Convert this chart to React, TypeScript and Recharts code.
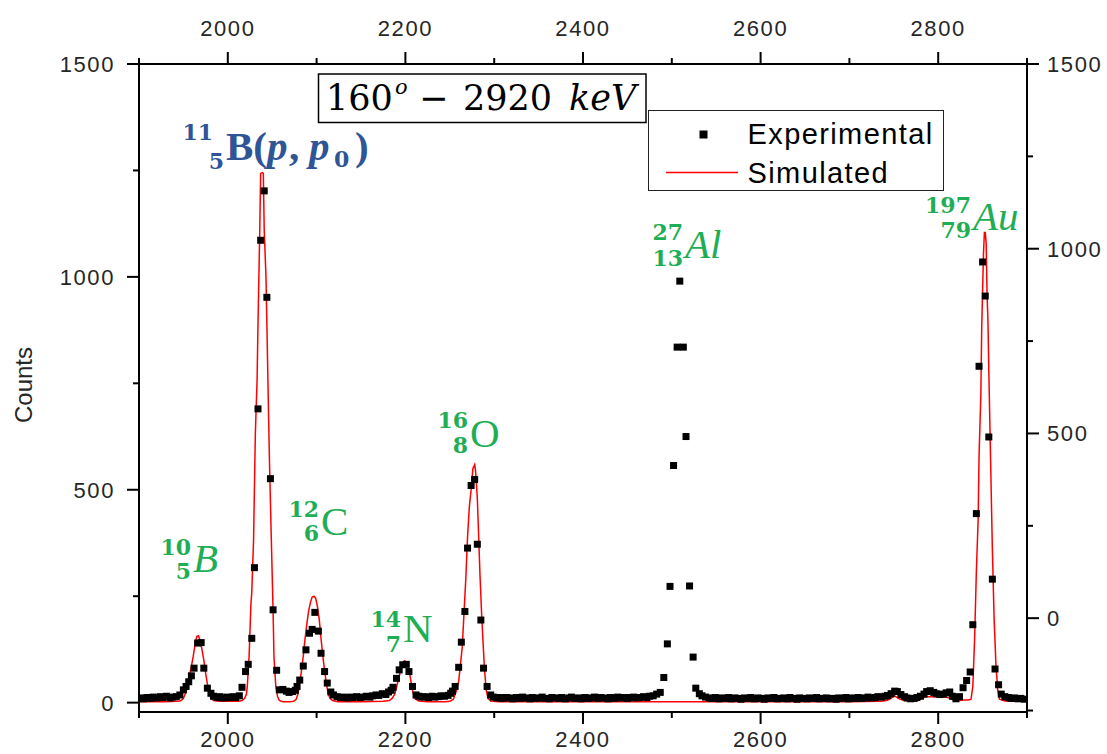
import React from 'react';
import { ComposedChart, XAxis, YAxis, Scatter, Line, Legend } from 'recharts';

type Pt = [number, number];

// ---- Experimental counts (energy keV, counts) ----
const expLowEdge: Pt[] = [[1902,11],[1905,9],[1909,12],[1913,10],[1916,13],[1920,11],[1924,14],[1927,12],[1931,15],[1935,11],[1938,13],[1942,14],[1946,18]];
const expBoron10: Pt[] = [[1950,30],[1953,38],[1956,49],[1959,63],[1962,81],[1966,140],[1970,141],[1973,81],[1977,34],[1981,22]];
const expGapA: Pt[] = [[1984,15],[1988,12],[1991,14],[1995,11],[1999,13],[2002,12],[2006,14],[2009,12],[2013,16]];
const expBoron11: Pt[] = [[2016,36],[2020,73],[2023,90],[2027,151],[2030,317],[2034,690],[2037,1086],[2041,1202],[2044,952],[2048,526],[2051,218],[2055,76],[2058,30]];
const expGapB: Pt[] = [[2062,31],[2066,27],[2069,24],[2073,26],[2076,29],[2078,38]];
const expCarbon: Pt[] = [[2081,53],[2085,86],[2088,124],[2092,163],[2095,172],[2098,212],[2102,168],[2105,116],[2109,73],[2112,46],[2116,25],[2119,18]];
const expGapC: Pt[] = [[2123,14],[2127,12],[2130,13],[2134,11],[2138,13],[2141,12],[2145,14],[2149,12],[2152,13],[2156,15],[2160,13],[2163,16],[2167,18],[2170,17],[2174,21],[2178,19],[2181,25],[2184,29]];
const expNitrogen: Pt[] = [[2186,36],[2190,57],[2193,77],[2197,89],[2201,90],[2204,73],[2208,38],[2212,18]];
const expGapD: Pt[] = [[2215,15],[2219,13],[2222,14],[2226,12],[2230,15],[2233,13],[2237,14],[2240,16],[2244,15],[2248,17],[2251,22],[2253,27]];
const expOxygen: Pt[] = [[2256,38],[2260,83],[2263,142],[2267,214],[2270,363],[2274,510],[2278,524],[2281,372],[2285,194],[2288,81],[2292,38],[2296,18]];
const expGapE: Pt[] = [[2299,13],[2303,11],[2307,12],[2310,10],[2314,12],[2318,11],[2321,9],[2325,12],[2329,10],[2332,13],[2336,11],[2340,9],[2343,12],[2347,10],[2351,11],[2354,13],[2358,10],[2362,9],[2365,12],[2369,11],[2373,10],[2376,12],[2380,9],[2384,11],[2387,13],[2391,10],[2395,11],[2398,9],[2402,12],[2406,10],[2409,11],[2413,13],[2417,10],[2420,12],[2424,11],[2428,9],[2431,12],[2435,10],[2439,13],[2442,11],[2446,12],[2450,10],[2453,12],[2457,13],[2461,11],[2464,12],[2468,14],[2472,12],[2475,15],[2479,16],[2483,20]];
const expAluminium: Pt[] = [[2487,24],[2491,59],[2495,138],[2498,273],[2502,557],[2506,835],[2509,990],[2513,835],[2516,625],[2520,274],[2524,107],[2527,34],[2531,21],[2534,16]];
const expGapF: Pt[] = [[2538,13],[2542,11],[2545,10],[2549,12],[2553,9],[2556,11],[2560,10],[2564,12],[2567,9],[2571,11],[2575,10],[2578,8],[2582,11],[2586,10],[2589,12],[2593,9],[2597,11],[2600,10],[2604,8],[2608,11],[2611,10],[2615,12],[2619,9],[2622,10],[2626,11],[2630,9],[2633,12],[2637,10],[2641,8],[2644,11],[2648,10],[2652,9],[2655,11],[2659,10],[2663,12],[2666,9],[2670,10],[2674,11],[2677,9],[2681,10],[2685,8],[2688,11],[2692,10],[2696,12],[2699,9],[2703,11],[2707,10],[2710,12],[2714,10],[2718,11],[2721,13],[2725,11],[2729,12],[2732,14],[2736,13],[2740,15]];
const expBumps: Pt[] = [[2743,17],[2747,21],[2751,27],[2754,26],[2758,19],[2762,14],[2765,11],[2769,9],[2773,10],[2776,12],[2780,15],[2784,20],[2787,26],[2791,28],[2795,24],[2798,21],[2802,19],[2806,20],[2809,23],[2813,25],[2816,15],[2820,9],[2824,14],[2828,35]];
const expGold: Pt[] = [[2832,52],[2836,72],[2839,183],[2843,444],[2846,790],[2850,1035],[2853,955],[2857,624],[2861,290],[2864,79],[2868,42],[2871,20],[2875,14],[2879,12],[2882,10],[2886,11],[2890,9],[2893,10],[2897,8]];

// ---- Simulated spectrum (energy keV, counts) ----
const simLow: Pt[] = [[1900,2],[1930,2],[1942,3],[1946,4]];
const simBoron10: Pt[] = [[1948,6],[1950,10],[1953,25],[1955,45],[1957,65],[1959,85],[1961,108],[1963,135],[1965,155],[1967,157],[1969,145],[1971,124],[1973,100],[1975,70],[1977,44],[1979,22],[1981,10],[1984,5],[1990,3]];
const simBoron11: Pt[] = [[2005,3],[2012,3],[2016,5],[2019,10],[2021,20],[2022,40],[2024,110],[2026,230],[2027,260],[2029,380],[2031,630],[2033,760],[2034,890],[2036,1110],[2037,1243],[2039,1245],[2040,1243],[2041,1110],[2043,1000],[2044,890],[2046,665],[2047,560],[2049,385],[2051,216],[2052,107],[2054,40],[2056,15],[2058,5],[2062,2],[2070,2]];
const simCarbon: Pt[] = [[2074,3],[2077,8],[2079,20],[2081,46],[2083,75],[2085,110],[2087,150],[2089,185],[2091,215],[2093,235],[2095,248],[2097,250],[2099,245],[2101,225],[2103,195],[2105,150],[2107,110],[2109,75],[2111,45],[2113,22],[2115,10],[2118,5],[2124,2]];
const simNitrogen: Pt[] = [[2150,2],[2175,3],[2182,5],[2185,10],[2188,20],[2190,36],[2193,62],[2196,86],[2199,98],[2201,95],[2203,82],[2205,66],[2207,40],[2209,20],[2211,9],[2215,4],[2225,2]];
const simOxygen: Pt[] = [[2245,2],[2250,3],[2254,8],[2257,25],[2260,50],[2262,90],[2264,130],[2266,210],[2268,290],[2270,390],[2272,460],[2274,500],[2276,550],[2278,559],[2279,545],[2281,480],[2282,420],[2284,300],[2286,200],[2287,160],[2289,80],[2291,30],[2293,10],[2296,4],[2305,2]];
const simFlat: Pt[] = [[2400,2],[2500,2],[2600,2],[2700,2],[2735,3]];
const simBumps: Pt[] = [[2742,5],[2746,9],[2751,16],[2756,9],[2762,5],[2770,4],[2776,5],[2781,9],[2786,14],[2792,14],[2800,13],[2808,13],[2813,11],[2817,6],[2824,5]];
const simGold: Pt[] = [[2830,6],[2834,6],[2837,8],[2839,38],[2841,150],[2843,310],[2845,430],[2846,580],[2848,720],[2849,880],[2851,1055],[2852,1104],[2853,1104],[2854,1080],[2855,960],[2856,900],[2857,780],[2859,570],[2861,360],[2863,195],[2865,90],[2867,30],[2869,8],[2875,4],[2900,3]];

// ---- Axis ticks ----
const xTicks = [1900, 2000, 2100, 2200, 2300, 2400, 2500, 2600, 2700, 2800, 2900];
const xMajor = [2000, 2200, 2400, 2600, 2800];
const leftTicks = [0, 250, 500, 750, 1000, 1250, 1500];
const rightTicks = [-250, 0, 250, 500, 750, 1000, 1250, 1500];
const yMajor = [0, 500, 1000, 1500];

const toRows = (segs: Pt[][]) => segs.flat().map(([e, c]) => ({ e, c }));
const experimental = toRows([expLowEdge, expBoron10, expGapA, expBoron11, expGapB, expCarbon, expGapC, expNitrogen, expGapD, expOxygen, expGapE, expAluminium, expGapF, expBumps, expGold]);
const simulated = toRows([simLow, simBoron10, simBoron11, simCarbon, simNitrogen, simOxygen, simFlat, simBumps, simGold]);

const MAJOR = 12;
const MINOR = 6;
const SANS = '"Liberation Sans", Arial, sans-serif';
const tickText = { fontFamily: SANS, fontSize: 22, letterSpacing: 1.6, fill: '#262626' } as const;

const BottomTick = (p: any) => {
  const major = xMajor.includes(p.payload.value);
  return (
    <g>
      <line x1={p.x} x2={p.x} y1={p.y} y2={p.y + (major ? MAJOR : MINOR)} stroke="#000" strokeWidth={2} />
      {major && <text x={p.x} y={p.y + 35} textAnchor="middle" {...tickText}>{p.payload.value}</text>}
    </g>
  );
};
const TopTick = (p: any) => {
  const major = xMajor.includes(p.payload.value);
  return (
    <g>
      <line x1={p.x} x2={p.x} y1={p.y} y2={p.y - (major ? MAJOR : MINOR)} stroke="#000" strokeWidth={2} />
      {major && <text x={p.x} y={p.y - 28} textAnchor="middle" {...tickText}>{p.payload.value}</text>}
    </g>
  );
};
const LeftTick = (p: any) => {
  const major = yMajor.includes(p.payload.value);
  return (
    <g>
      <line x1={p.x} x2={p.x - (major ? MAJOR : MINOR)} y1={p.y} y2={p.y} stroke="#000" strokeWidth={2} />
      {major && <text x={p.x - 24} y={p.y + 8} textAnchor="end" {...tickText}>{p.payload.value}</text>}
    </g>
  );
};
const RightTick = (p: any) => {
  const major = yMajor.includes(p.payload.value);
  return (
    <g>
      <line x1={p.x} x2={p.x + (major ? MAJOR : MINOR)} y1={p.y} y2={p.y} stroke="#000" strokeWidth={2} />
      {major && <text x={p.x + 20} y={p.y + 8} textAnchor="start" {...tickText}>{p.payload.value}</text>}
    </g>
  );
};

const SquareMark = (p: any) => <rect x={p.cx - 3.5} y={p.cy - 3.5} width={7} height={7} fill="#000" />;

const LegendBox = () => (
  <div style={{ width: 296, height: 81, border: '1.5px solid #222', boxSizing: 'border-box', background: '#fff' }}>
    <svg width={293} height={78} style={{ display: 'block' }}>
      <rect x={50.5} y={19.5} width={8} height={8} fill="#000" />
      <text x={98.5} y={32.5} fontFamily={SANS} fontSize={29} letterSpacing={1.4} fill="#000">Experimental</text>
      <line x1={17} x2={89} y1={61.5} y2={61.5} stroke="#ff0000" strokeWidth={1.5} />
      <text x={98.5} y={71.5} fontFamily={SANS} fontSize={29} letterSpacing={1.4} fill="#000">Simulated</text>
    </svg>
  </div>
);

const GREEN = '#1fae55';
const BLUE = '#2f5597';
const SERIF = '"Liberation Serif", "Times New Roman", serif';
const DIGITS = '"DejaVu Serif", serif';

type Nuc = { mass: string; z: string; sym: string; x: number; yMass: number; yZ: number; ySym: number; italic: boolean };
const Nuclide = ({ n, color }: { n: Nuc; color: string }) => (
  <g fill={color}>
    <text x={n.x - 1} y={n.yMass} textAnchor="end" fontFamily={DIGITS} fontWeight="bold" fontSize={22}>{n.mass}</text>
    <text x={n.x - 1} y={n.yZ} textAnchor="end" fontFamily={DIGITS} fontWeight="bold" fontSize={22}>{n.z}</text>
    <text x={n.x + 1} y={n.ySym} fontFamily={SERIF} fontStyle={n.italic ? 'italic' : 'normal'} fontSize={41}>{n.sym}</text>
  </g>
);

const nuclides: Nuc[] = [
  { mass: '10', z: '5', sym: 'B', x: 192, yMass: 555, yZ: 579, ySym: 572, italic: true },
  { mass: '12', z: '6', sym: 'C', x: 320, yMass: 517, yZ: 541, ySym: 535, italic: false },
  { mass: '14', z: '7', sym: 'N', x: 402, yMass: 627, yZ: 652, ySym: 642, italic: false },
  { mass: '16', z: '8', sym: 'O', x: 469, yMass: 428, yZ: 453, ySym: 447, italic: false },
  { mass: '27', z: '13', sym: 'Al', x: 684, yMass: 240, yZ: 266, ySym: 258, italic: true },
  { mass: '197', z: '79', sym: 'Au', x: 972, yMass: 213, yZ: 238, ySym: 230, italic: true },
];

const Overlay = () => (
  <svg width={1107} height={754} style={{ position: 'absolute', left: 0, top: 0, pointerEvents: 'none' }}>
    <text transform="translate(32,385) rotate(-90)" textAnchor="middle" fontFamily={SANS} fontSize={24} fill="#262626">Counts</text>
    {/* title box */}
    <rect x={318.5} y={74} width={327.5} height={48.5} fill="#fff" stroke="#000" strokeWidth={1.5} />
    <g fontFamily={DIGITS} fill="#000">
      <text x={326} y={110} fontSize={35}>160</text>
      <text x={395} y={94} fontSize={21} fontStyle="italic">o</text>
      <text x={419} y={110} fontSize={35}>−</text>
      <text x={463} y={110} fontSize={35}>2920</text>
      <text x={569} y={110} fontSize={35} fontStyle="italic">keV</text>
    </g>
    {/* blue reaction label */}
    <g fill={BLUE} fontWeight="bold">
      <text x={213} y={140} textAnchor="end" fontFamily={DIGITS} fontSize={22}>11</text>
      <text x={224} y={169} textAnchor="end" fontFamily={DIGITS} fontSize={22}>5</text>
      <text x={226} y={160} fontFamily={SERIF} fontSize={41}>B(</text>
      <text x={267} y={160} fontFamily={SERIF} fontSize={41} fontStyle="italic">p</text>
      <text x={289} y={160} fontFamily={SERIF} fontSize={41}>,</text>
      <text x={309} y={160} fontFamily={SERIF} fontSize={41} fontStyle="italic">p</text>
      <text x={334} y={167} fontFamily={DIGITS} fontSize={22}>0</text>
      <text x={355} y={160} fontFamily={SERIF} fontSize={41}>)</text>
    </g>
    {nuclides.map((n) => <Nuclide key={n.mass} n={n} color={GREEN} />)}
  </svg>
);

export default function App() {
  return (
    <div style={{ position: 'absolute', left: 0, top: 0, width: 1107, height: 754, background: '#fff' }}>
      <ComposedChart width={1107} height={754} margin={{ top: 24, right: 20, bottom: 12, left: 79 }}>
        <XAxis xAxisId="bottom" dataKey="e" type="number" orientation="bottom" domain={[1900, 2900]} allowDataOverflow ticks={xTicks} interval={0} height={30} tickSize={0} tickMargin={0} axisLine={{ stroke: '#000', strokeWidth: 2 }} tickLine={false} tick={<BottomTick />} />
        <XAxis xAxisId="top" dataKey="e" type="number" orientation="top" domain={[1900, 2900]} allowDataOverflow ticks={xTicks} interval={0} height={40} tickSize={0} tickMargin={0} axisLine={{ stroke: '#000', strokeWidth: 2 }} tickLine={false} tick={<TopTick />} />
        <YAxis yAxisId="left" type="number" orientation="left" domain={[-22, 1500]} allowDataOverflow ticks={leftTicks} interval={0} width={60} tickSize={0} tickMargin={0} axisLine={{ stroke: '#000', strokeWidth: 2 }} tickLine={false} tick={<LeftTick />} />
        <YAxis yAxisId="right" type="number" orientation="right" domain={[-254, 1500]} allowDataOverflow ticks={rightTicks} interval={0} width={60} tickSize={0} tickMargin={0} axisLine={{ stroke: '#000', strokeWidth: 2 }} tickLine={false} tick={<RightTick />} />
        <Scatter name="Experimental" data={experimental} dataKey="c" xAxisId="bottom" yAxisId="left" fill="#000" shape={SquareMark} isAnimationActive={false} />
        <Line name="Simulated" data={simulated} dataKey="c" xAxisId="bottom" yAxisId="left" type="linear" stroke="#ff0000" strokeWidth={1.5} dot={false} activeDot={false} isAnimationActive={false} />
        <Legend layout="vertical" align="center" verticalAlign="middle" wrapperStyle={{ left: 648, top: 110, width: 296, height: 81 }} content={() => <LegendBox />} />
      </ComposedChart>
      <Overlay />
    </div>
  );
}
